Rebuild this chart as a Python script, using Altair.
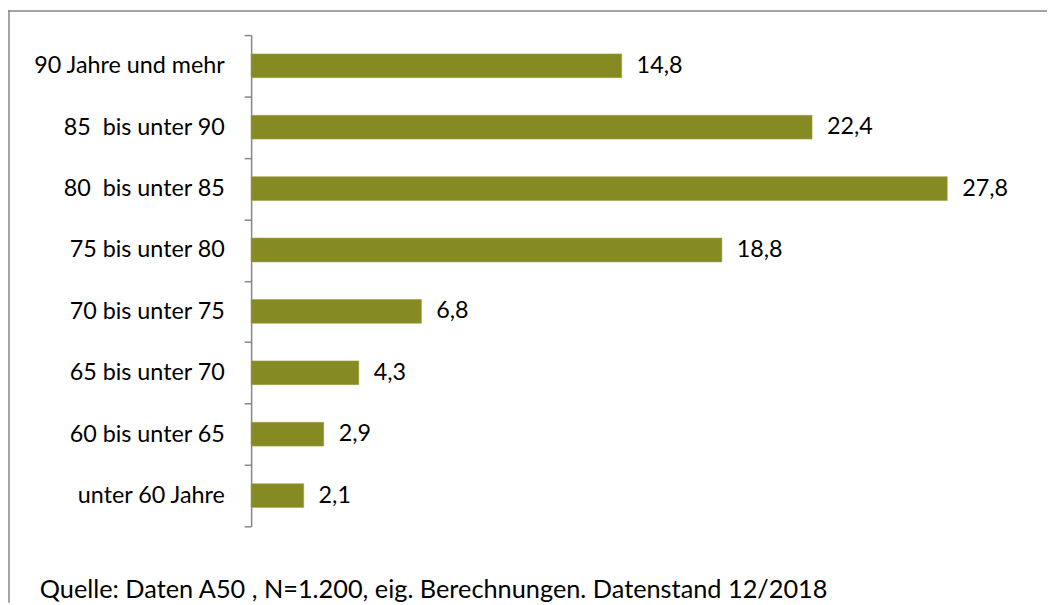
import altair as alt
import pandas as pd

categories = [
    "90 Jahre und mehr",
    "85\u00a0 bis unter 90",
    "80\u00a0 bis unter 85",
    "75 bis unter 80",
    "70 bis unter 75",
    "65 bis unter 70",
    "60 bis unter 65",
    "unter 60 Jahre",
]
values = [14.8, 22.4, 27.8, 18.8, 6.8, 4.3, 2.9, 2.1]
value_labels = ["14,8", "22,4", "27,8", "18,8", "6,8", "4,3", "2,9", "2,1"]
footer_text = "Quelle: Daten A50 , N=1.200, eig. Berechnungen. Datenstand 12/2018"

df = pd.DataFrame({"cat": categories, "val": values, "lbl": value_labels})

FONT = "Lato"
BAR = "#868A23"
GRAY = "#868686"

y_enc = alt.Y(
    "cat:N",
    sort=categories,
    scale=alt.Scale(paddingInner=0, paddingOuter=0),
    axis=alt.Axis(
        title=None,
        domain=True,
        domainColor=GRAY,
        domainWidth=1.5,
        ticks=True,
        tickColor=GRAY,
        tickWidth=1.5,
        tickSize=7,
        tickBand="extent",
        grid=False,
        labelFont=FONT,
        labelFontSize=23.5,
        labelColor="#000000",
        labelPadding=20,
        labelLimit=400,
    ),
)
x_enc = alt.X("val:Q", scale=alt.Scale(domain=[0, 30], nice=False), axis=None)

bars = alt.Chart(df).mark_bar(size=24, color=BAR, stroke="#9fa24a", strokeWidth=0.6).encode(y=y_enc, x=x_enc)
labels = alt.Chart(df).mark_text(
    align="left", baseline="middle", dx=15, font=FONT, fontSize=23.5, color="#000000"
).encode(y=y_enc, x=x_enc, text="lbl:N")

one = pd.DataFrame({"a": [0]})
top_line = alt.Chart(one).mark_rule(color=GRAY, strokeWidth=1.5).encode(
    x=alt.value(-245), x2=alt.value(802), y=alt.value(-24.2)
)
left_line = alt.Chart(one).mark_rule(color=GRAY, strokeWidth=1.5).encode(
    x=alt.value(-244), y=alt.value(-25), y2=alt.value(572)
)
footer = alt.Chart(pd.DataFrame({"t": [footer_text]})).mark_text(
    align="left", baseline="alphabetic", font=FONT, fontSize=25.5, color="#000000"
).encode(x=alt.value(-213), y=alt.value(567), text="t:N")

chart = (
    alt.layer(bars, labels, top_line, left_line, footer)
    .properties(
        width=757,
        height=495,
        background="#ffffff",
        autosize=alt.AutoSizeParams(type="none"),
        padding={"left": 245, "top": 25, "right": 45, "bottom": 77},
    )
    .configure_view(strokeWidth=0, stroke=None)
)

chart.save("out.html", embed_options={"renderer": "svg", "actions": False})
